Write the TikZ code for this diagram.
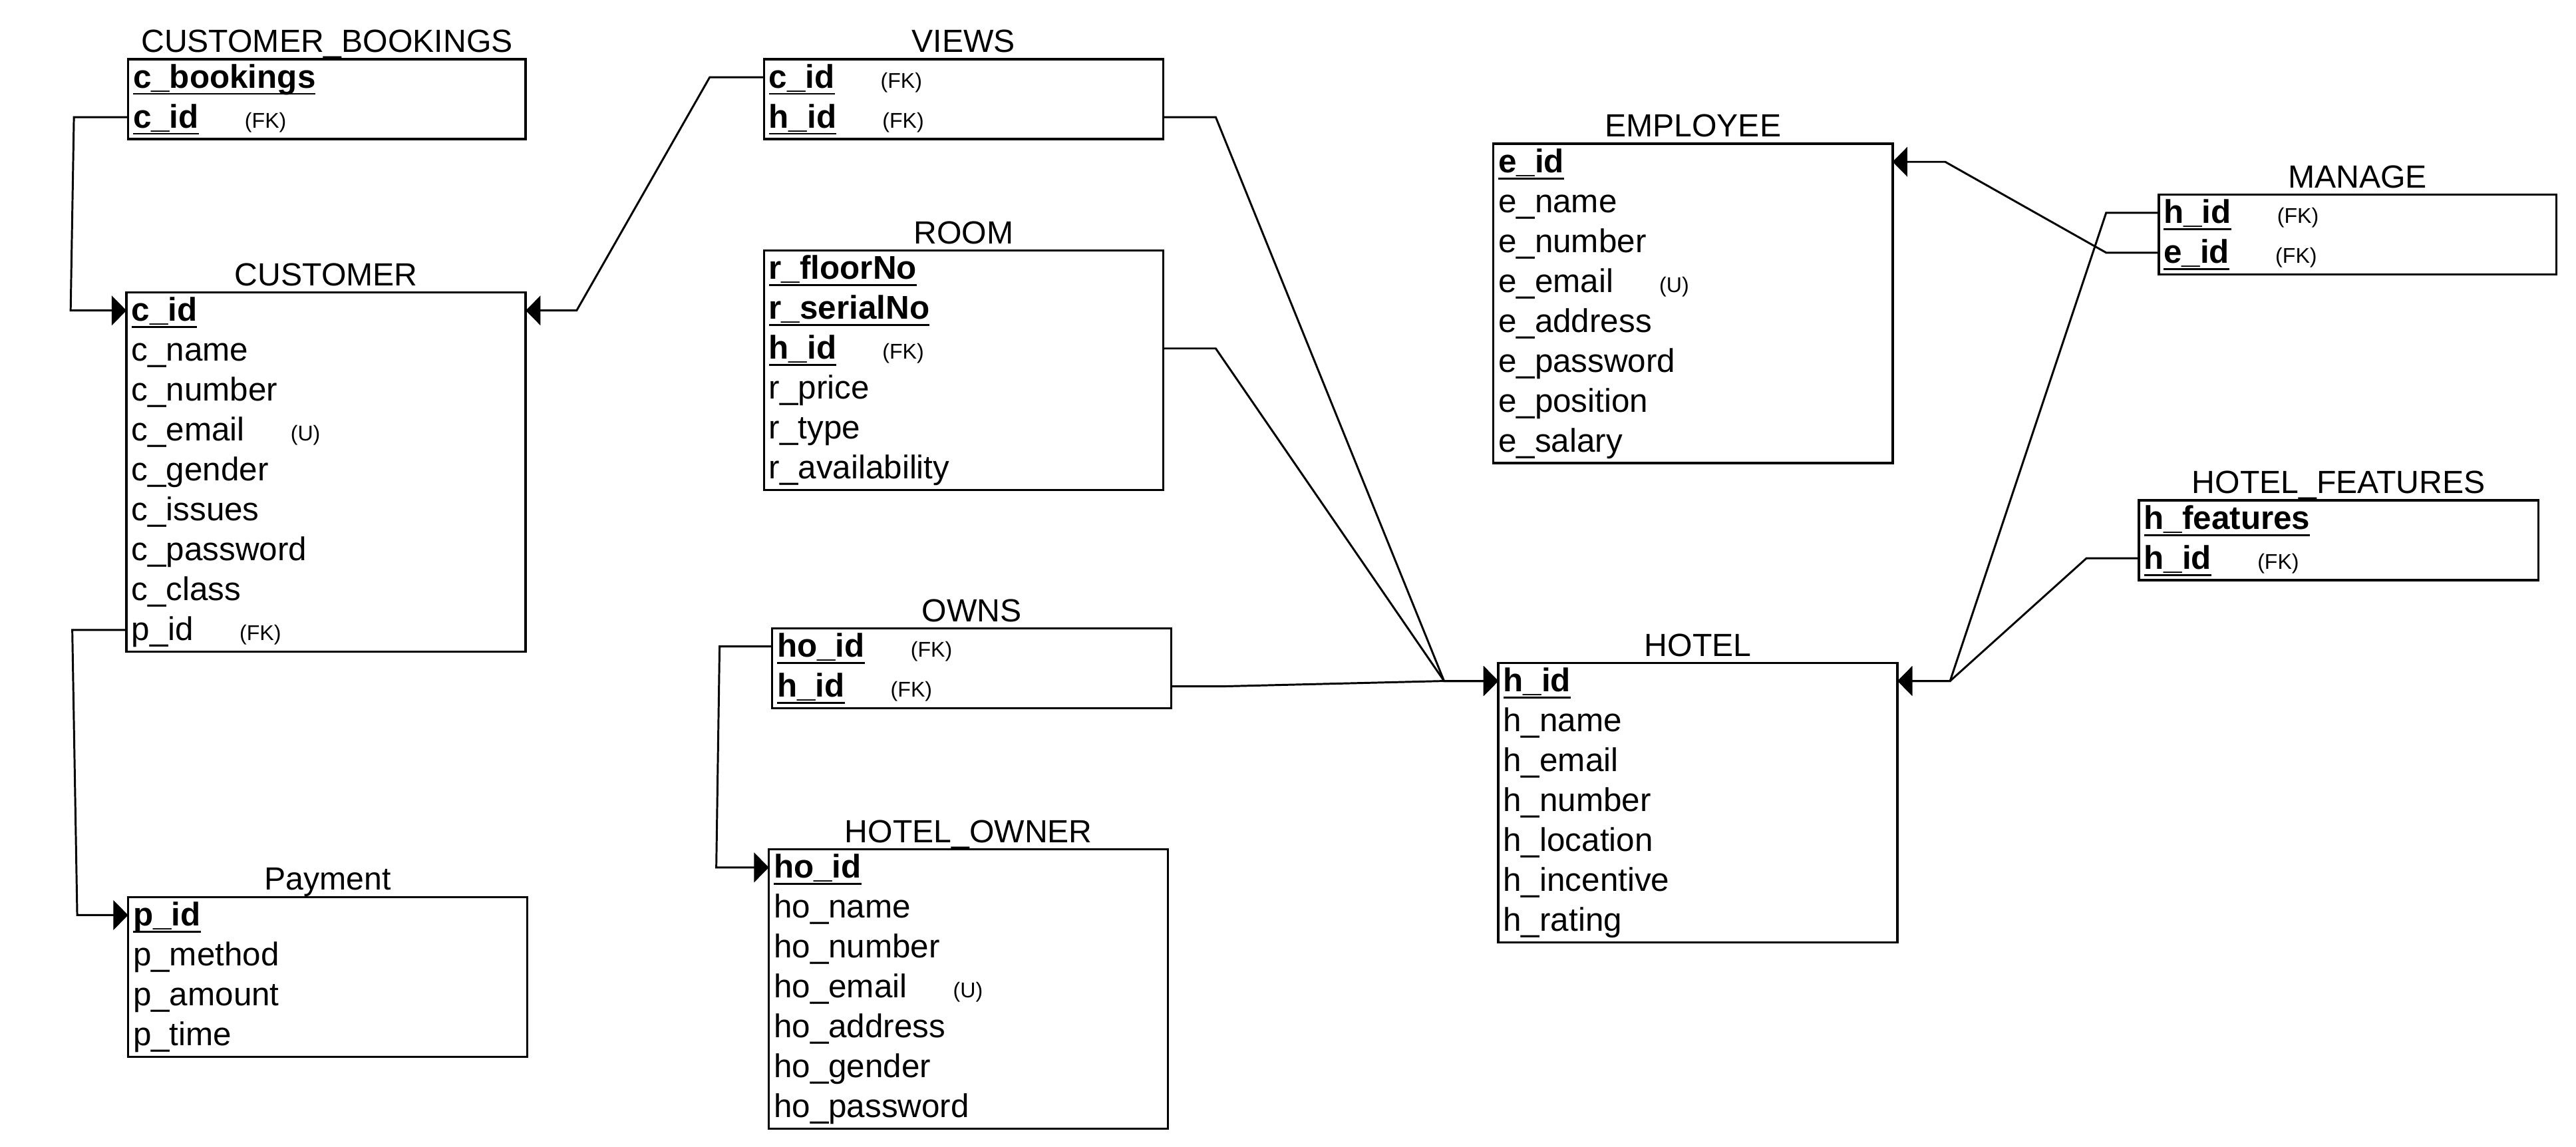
\documentclass[tikz,border=0pt]{standalone}
\usepackage{fontspec}
\setmainfont{Liberation Sans}
\usetikzlibrary{positioning,calc,arrows.meta}
\tikzstyle{tbox}=[rectangle,draw=black,line width=1.4pt,anchor=north west,minimum width=243pt,inner sep=0pt,outer sep=0pt]
\tikzstyle{ttitle}=[inner sep=0pt,text depth=0pt,font=\fontsize{19.5}{19.5}\selectfont]
\tikzstyle{trow}=[anchor=west,inner xsep=3pt,inner ysep=0pt,outer sep=0pt,text height=13pt,text depth=0pt,font=\fontsize{20}{20}\selectfont]
\tikzstyle{link}=[draw=black,line width=1.2pt]
\tikzstyle{fk}=[link,-{Triangle[length=9pt,width=18pt]}]
\newsavebox{\keybox}
\newcommand{\keyf}[1]{\sbox{\keybox}{\bfseries #1}\rlap{\rule[-4.2pt]{\wd\keybox}{1.2pt}}\usebox{\keybox}}
\newcommand{\fkey}{\hspace{28pt}{\fontsize{13}{13}\selectfont(FK)}}
\newcommand{\uniq}{\hspace{28pt}{\fontsize{13}{13}\selectfont(U)}}

\begin{document}
\begin{tikzpicture}[x=1pt,y=-1pt]
  \path[use as bounding box,fill=white] (0,0) rectangle (1568,698);

  % left column
  \node[tbox,minimum width=242pt,minimum height=48.6pt] (cbook) at (78,36) {};
  \node[ttitle,above=4pt of cbook] (cbook-t) {CUSTOMER\_BOOKINGS};
  \foreach \i/\f in {1/\keyf{c\_bookings}, 2/\keyf{c\_id}\fkey}
    \node[trow] (cbook-\i) at ($(cbook.north west)+(0,{11+24.3*(\i-1)})$) {\f};

  \node[tbox,minimum height=218.7pt] (customer) at (77,178) {};
  \node[ttitle,above=4pt of customer] (customer-t) {CUSTOMER};
  \foreach \i/\f in {1/\keyf{c\_id}, 2/c\_name, 3/c\_number, 4/c\_email\uniq,
                     5/c\_gender, 6/c\_issues, 7/c\_password, 8/c\_class, 9/p\_id\fkey}
    \node[trow] (customer-\i) at ($(customer.north west)+(0,{11+24.3*(\i-1)})$) {\f};

  \node[tbox,minimum height=97.2pt] (payment) at (78,546) {};
  \node[ttitle,above=4pt of payment] (payment-t) {Payment};
  \foreach \i/\f in {1/\keyf{p\_id}, 2/p\_method, 3/p\_amount, 4/p\_time}
    \node[trow] (payment-\i) at ($(payment.north west)+(0,{11+24.3*(\i-1)})$) {\f};

  % middle column
  \node[tbox,minimum height=48.6pt] (views) at (465,36) {};
  \node[ttitle,above=4pt of views] (views-t) {VIEWS};
  \foreach \i/\f in {1/\keyf{c\_id}\fkey, 2/\keyf{h\_id}\fkey}
    \node[trow] (views-\i) at ($(views.north west)+(0,{11+24.3*(\i-1)})$) {\f};

  \node[tbox,minimum height=145.8pt] (room) at (465,152.5) {};
  \node[ttitle,above=4pt of room] (room-t) {ROOM};
  \foreach \i/\f in {1/\keyf{r\_floorNo}, 2/\keyf{r\_serialNo}, 3/\keyf{h\_id}\fkey,
                     4/r\_price, 5/r\_type, 6/r\_availability}
    \node[trow] (room-\i) at ($(room.north west)+(0,{11+24.3*(\i-1)})$) {\f};

  \node[tbox,minimum height=48.6pt] (owns) at (470,382.5) {};
  \node[ttitle,above=4pt of owns] (owns-t) {OWNS};
  \foreach \i/\f in {1/\keyf{ho\_id}\fkey, 2/\keyf{h\_id}\fkey}
    \node[trow] (owns-\i) at ($(owns.north west)+(0,{11+24.3*(\i-1)})$) {\f};

  \node[tbox,minimum height=170.1pt] (howner) at (468,517) {};
  \node[ttitle,above=4pt of howner] (howner-t) {HOTEL\_OWNER};
  \foreach \i/\f in {1/\keyf{ho\_id}, 2/ho\_name, 3/ho\_number, 4/ho\_email\uniq,
                     5/ho\_address, 6/ho\_gender, 7/ho\_password}
    \node[trow] (howner-\i) at ($(howner.north west)+(0,{11+24.3*(\i-1)})$) {\f};

  % right side
  \node[tbox,minimum height=194.4pt] (employee) at (909,87.5) {};
  \node[ttitle,above=4pt of employee] (employee-t) {EMPLOYEE};
  \foreach \i/\f in {1/\keyf{e\_id}, 2/e\_name, 3/e\_number, 4/e\_email\uniq,
                     5/e\_address, 6/e\_password, 7/e\_position, 8/e\_salary}
    \node[trow] (employee-\i) at ($(employee.north west)+(0,{11+24.3*(\i-1)})$) {\f};

  \node[tbox,minimum height=170.1pt] (hotel) at (912,403.5) {};
  \node[ttitle,above=4pt of hotel] (hotel-t) {HOTEL};
  \foreach \i/\f in {1/\keyf{h\_id}, 2/h\_name, 3/h\_email, 4/h\_number,
                     5/h\_location, 6/h\_incentive, 7/h\_rating}
    \node[trow] (hotel-\i) at ($(hotel.north west)+(0,{11+24.3*(\i-1)})$) {\f};

  \node[tbox,minimum width=242pt,minimum height=48.6pt] (manage) at (1314,118.5) {};
  \node[ttitle,above=4pt of manage] (manage-t) {MANAGE};
  \foreach \i/\f in {1/\keyf{h\_id}\fkey, 2/\keyf{e\_id}\fkey}
    \node[trow] (manage-\i) at ($(manage.north west)+(0,{11+24.3*(\i-1)})$) {\f};

  \node[tbox,minimum height=48.6pt] (hfeat) at (1302,304.5) {};
  \node[ttitle,above=4pt of hfeat] (hfeat-t) {HOTEL\_FEATURES};
  \foreach \i/\f in {1/\keyf{h\_features}, 2/\keyf{h\_id}\fkey}
    \node[trow] (hfeat-\i) at ($(hfeat.north west)+(0,{11+24.3*(\i-1)})$) {\f};

  % foreign keys
  \coordinate (hjoin) at ($(hotel-1.west)+(-33,0)$);
  \coordinate (hjoin2) at ($(hotel-1 -| hotel.east)+(32,0)$);

  \path[fk] (cbook-2.west) -- ++(-33,0) -- ($(customer-1.west)+(-34,0)$) -- (customer-1.west);
  \path[fk] (views-1.west) -- ++(-33,0) -- ($(customer-1 -| customer.east)+(31,0)$) -- (customer-1 -| customer.east);
  \path[fk] (customer-9.west) -- ++(-33,0) -- ($(payment-1.west)+(-31,0)$) -- (payment-1.west);
  \path[fk] (views-2 -| views.east) -- ++(32,0) -- (hjoin) -- (hotel-1.west);
  \path[fk] (room-3 -| room.east) -- ++(32,0) -- (hjoin) -- (hotel-1.west);
  \path[fk] (owns-2 -| owns.east) -- ++(30,0) -- (hjoin) -- (hotel-1.west);
  \path[fk] (owns-1.west) -- ++(-32,0) -- ($(howner-1.west)+(-32,0)$) -- (howner-1.west);
  \path[fk] (manage-2.west) -- ++(-32,0) -- ($(employee-1 -| employee.east)+(32,0)$) -- (employee-1 -| employee.east);
  \path[fk] (manage-1.west) -- ++(-32,0) -- (hjoin2) -- (hotel-1 -| hotel.east);
  \path[fk] (hfeat-2.west) -- ++(-32,0) -- (hjoin2) -- (hotel-1 -| hotel.east);
\end{tikzpicture}
\end{document}
